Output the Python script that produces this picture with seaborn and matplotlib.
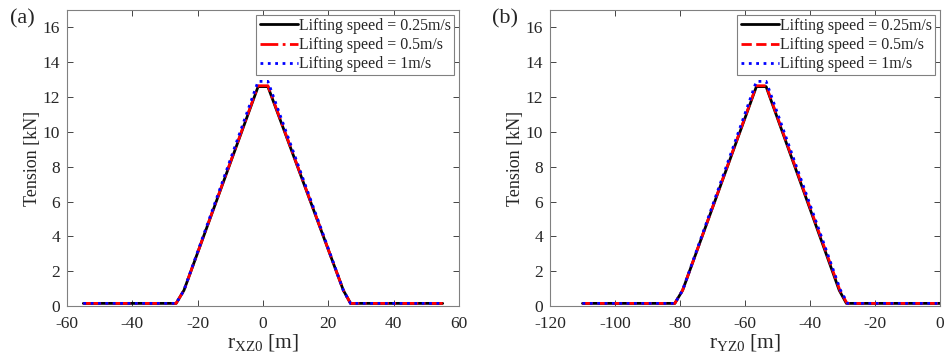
import numpy as np
import pandas as pd
import matplotlib
matplotlib.use("Agg")
import matplotlib.pyplot as plt
import seaborn as sns

# ---- data ----
speeds = ["Lifting speed = 0.25m/s", "Lifting speed = 0.5m/s", "Lifting speed = 1m/s"]

xz_x_025 = [-55, -26.6, -24.2, -1.5, 1.5, 24.6, 26.8, 55]
xz_y_025 = [0.15, 0.15, 0.9, 12.6, 12.6, 0.9, 0.15, 0.15]
xz_x_05 = [-55, -26.6, -24.2, -1.5, 1.5, 24.6, 26.8, 55]
xz_y_05 = [0.15, 0.15, 0.9, 12.65, 12.65, 0.9, 0.15, 0.15]
xz_x_1 = [-55, -26.6, -24.2, -1.5, 1.5, 24.6, 26.8, 55]
xz_y_1 = [0.15, 0.15, 0.9, 12.9, 12.9, 0.9, 0.15, 0.15]

yz_x_025 = [-110, -81.6, -79.2, -56.5, -53.5, -31.0, -28.8, 0]
yz_y_025 = [0.15, 0.15, 0.9, 12.6, 12.6, 0.9, 0.15, 0.15]
yz_x_05 = [-110, -81.6, -79.2, -56.5, -53.5, -30.8, -28.6, 0]
yz_y_05 = [0.15, 0.15, 0.9, 12.65, 12.65, 0.9, 0.15, 0.15]
yz_x_1 = [-110, -81.6, -79.2, -56.5, -53.5, -30.6, -28.4, 0]
yz_y_1 = [0.15, 0.15, 0.9, 12.9, 12.9, 0.9, 0.15, 0.15]

def long_df(xs, ys):
    frames = []
    for s, x, y in zip(speeds, xs, ys):
        frames.append(pd.DataFrame({"x": x, "y": y, "speed": s}))
    return pd.concat(frames, ignore_index=True)

df_a = long_df([xz_x_025, xz_x_05, xz_x_1], [xz_y_025, xz_y_05, xz_y_1])
df_b = long_df([yz_x_025, yz_x_05, yz_x_1], [yz_y_025, yz_y_05, yz_y_1])

sns.set_theme(style="white")
plt.rcParams["font.family"] = ["Liberation Serif", "DejaVu Serif"]
plt.rcParams["mathtext.fontset"] = "custom"
plt.rcParams["mathtext.rm"] = "Liberation Serif"
plt.rcParams["mathtext.it"] = "Liberation Serif:italic"
plt.rcParams["axes.unicode_minus"] = False

palette = {speeds[0]: "black", speeds[1]: "red", speeds[2]: "blue"}

fig = plt.figure(figsize=(9.48, 3.62), dpi=100)
W, H = 948, 362
ax1 = fig.add_axes([67 / W, 1 - 306 / H, (459 - 67) / W, (306 - 10) / H])
ax2 = fig.add_axes([550 / W, 1 - 306 / H, (940 - 550) / W, (306 - 10) / H])

def draw(ax, df, red_style, xlim, xticks, xlabel, tag):
    sns.lineplot(data=df, x="x", y="y", hue="speed", palette=palette,
                 sort=False, estimator=None, ax=ax, legend=False)
    styles = ["-", red_style, ":"]
    for line, ls in zip(ax.get_lines(), styles):
        line.set_linestyle(ls)
        line.set_linewidth(2.0)
    handles = [plt.Line2D([], [], color=palette[s], ls=ls, lw=2.0) for s, ls in zip(speeds, styles)]
    leg = ax.legend(handles, speeds, loc="upper right", fontsize=11.4, frameon=True,
                    fancybox=False, edgecolor="#808080", framealpha=1,
                    borderpad=0.2, labelspacing=0.2, handlelength=2.4,
                    handletextpad=0.1, borderaxespad=0.3)
    leg.get_frame().set_linewidth(0.8)
    ax.set_xlim(*xlim)
    ax.set_ylim(0, 17)
    ax.set_xticks(xticks)
    ax.set_yticks(np.arange(0, 17, 2))
    ax.set_xlabel(xlabel, fontsize=15.5, labelpad=0)
    ax.set_ylabel("Tension [kN]", fontsize=13, labelpad=1)
    ax.tick_params(direction="in", length=4, width=0.6, labelsize=12.5, colors="#262626",
                   top=True, right=True, bottom=True, left=True)
    ax.tick_params(axis="x", pad=7)
    ax.tick_params(axis="y", pad=5)
    for sp in ax.spines.values():
        sp.set_visible(True)
        sp.set_color("#808080")
        sp.set_linewidth(0.8)
    ax.text(-0.115, 0.97, tag, transform=ax.transAxes, fontsize=16, va="center", ha="center")

draw(ax1, df_a, "-.", (-60, 60), np.arange(-60, 61, 20), r"r$_{\mathrm{XZ0}}$ [m]", "(a)")
draw(ax2, df_b, "--", (-120, 0), np.arange(-120, 1, 20), r"r$_{\mathrm{YZ0}}$ [m]", "(b)")

fig.savefig("out.png", dpi=100)
